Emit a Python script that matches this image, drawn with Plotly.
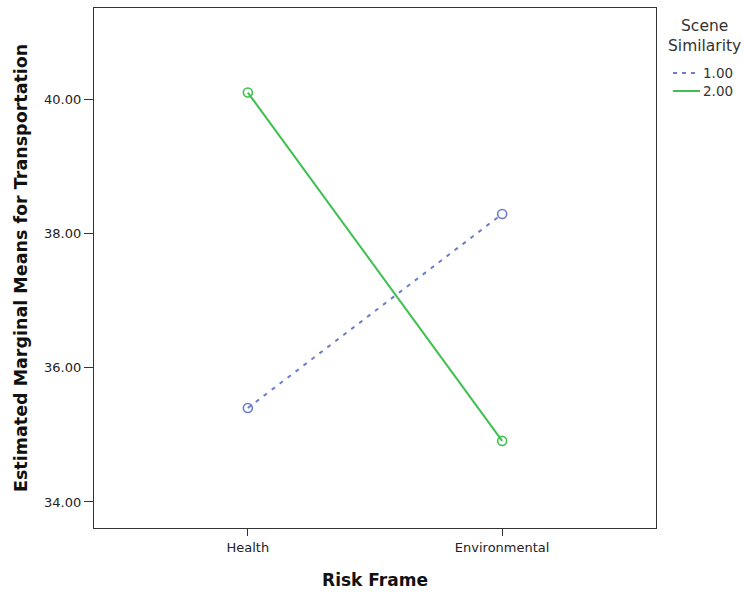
import plotly.graph_objects as go

categories = ["Health", "Environmental"]
series_names = ["1.00", "2.00"]
values_s1 = [35.40, 38.29]
values_s2 = [40.10, 34.91]
y_ticks = [34.0, 36.0, 38.0, 40.0]
y_tick_labels = ["34.00", "36.00", "38.00", "40.00"]

blue = "#6a7bd0"
green = "#3fc04f"
FONT = "DejaVu Sans, sans-serif"

fig = go.Figure()
fig.add_trace(go.Scatter(x=[0, 1], y=values_s1, mode="lines+markers",
                         line=dict(color=blue, width=2, dash="4px,6px"),
                         marker=dict(symbol="circle-open", size=9, color=blue, line=dict(width=1.6)),
                         showlegend=False, name=series_names[0]))
fig.add_trace(go.Scatter(x=[0, 1], y=values_s2, mode="lines+markers",
                         line=dict(color=green, width=2),
                         marker=dict(symbol="circle-open", size=9, color=green, line=dict(width=1.6)),
                         showlegend=False, name=series_names[1]))

L, R, T, B = 94, 88, 8, 64
W, H = 744, 592
pw = W - L - R
ph = H - T - B

def px(xpix):
    return (xpix - L) / pw

def py(ypix):
    return (H - B - ypix) / ph

fig.update_layout(
    width=W, height=H,
    margin=dict(l=L, r=R, t=T, b=B, autoexpand=False),
    paper_bgcolor="white", plot_bgcolor="white",
    font=dict(family=FONT, size=13, color="#222"),
    xaxis=dict(range=[-0.605, 1.605], tickmode="array", tickvals=[0, 1], ticktext=categories,
               automargin=False,
               showgrid=False, zeroline=False, showline=True, linecolor="#333", linewidth=1.3,
               mirror=True, ticks="outside", ticklen=7, tickcolor="#333", tickwidth=1.3,
               tickfont=dict(size=13, color="#222"),
               title=dict(text="<b>Risk Frame</b>", font=dict(size=17, color="#111"), standoff=20)),
    yaxis=dict(range=[33.612, 41.36], tickmode="array", tickvals=y_ticks, ticktext=y_tick_labels,
               automargin=False,
               showgrid=False, zeroline=False, showline=True, linecolor="#333", linewidth=1.3,
               mirror=True, ticks="outside", ticklen=9, tickcolor="#333", tickwidth=1.3,
               tickfont=dict(size=13, color="#222")),
)

# Y-axis title
fig.add_annotation(xref="paper", yref="paper", x=px(21), y=py(268),
                   text="<b>Estimated Marginal Means for Transportation</b>", textangle=-90,
                   showarrow=False, xanchor="center", yanchor="middle",
                   font=dict(family=FONT, size=17.5, color="#111"))

# Manual legend
fig.add_annotation(xref="paper", yref="paper", x=px(704), y=py(36), text="Scene<br>Similarity",
                   showarrow=False, xanchor="center", yanchor="middle",
                   font=dict(family=FONT, size=15.5, color="#333"), align="center")
legend_rows = [(series_names[0], blue, "4px,5px", 73), (series_names[1], green, "solid", 91)]
for name, col, dash, ypix in legend_rows:
    fig.add_shape(type="line", xref="paper", yref="paper", x0=px(673), x1=px(700),
                  y0=py(ypix), y1=py(ypix), line=dict(color=col, width=2, dash=dash))
    fig.add_annotation(xref="paper", yref="paper", x=px(701), y=py(ypix), text=name,
                       showarrow=False, xanchor="left", yanchor="middle",
                       font=dict(family=FONT, size=13.5, color="#333"))

fig.write_html(
    "out.html",
    config={"displayModeBar": False},
    post_script=(
        "document.documentElement.style.overflow='hidden';"
        "document.body.style.margin='0';"
        "document.body.style.overflow='hidden';"
        "document.body.style.height='592px';"
    ),
)
